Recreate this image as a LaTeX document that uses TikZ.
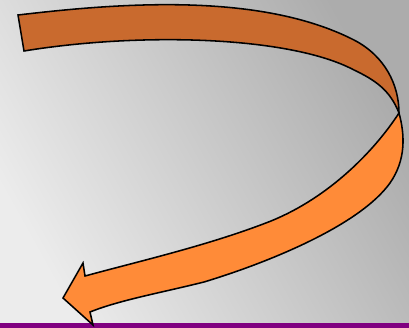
\documentclass[tikz,border=0pt]{standalone}
\usepackage{xcolor}
\definecolor{backorange}{RGB}{201, 106, 46}
\definecolor{frontorange}{RGB}{255, 139, 56}
\definecolor{barpurple}{RGB}{128, 0, 128}
\definecolor{bglight}{RGB}{236, 236, 236}
\definecolor{bgdark}{RGB}{172, 172, 172}
\usepackage{tikz}
\usetikzlibrary{calc}

\begin{document}
\begin{tikzpicture}[
  x=0.025cm, y=-0.025cm,
  ribbon/.style={draw=black, line width=1.1pt, line join=miter},
  backribbon/.style={ribbon, fill=backorange},
  frontribbon/.style={ribbon, fill=frontorange},
  bottombar/.style={fill=barpurple, draw=none}
]
\useasboundingbox (0,0) rectangle (409,328);
\shade[shading=axis, top color=bglight, bottom color=bgdark, shading angle=119] (0,0) rectangle (409,328);
\fill[bottombar] (0,323) rectangle (409,328);

\coordinate (twist) at (399,113);

\draw[backribbon] (18,15) .. controls (120,3) and (260,-8) .. (354,40)
  .. controls (385,56) and (399,85) .. (twist)
  .. controls (390,90) and (375,80) .. (354,70)
  .. controls (290,36) and (140,32) .. (24,51) -- cycle;

\draw[frontribbon] (twist) .. controls (405,135) and (406,160) .. (390,183)
  .. controls (360,225) and (270,262) .. (204,282)
  .. controls (160,293) and (120,300) .. (90,312)
  -- (93,325) -- (63,298) -- (83,263) -- (85,276)
  .. controls (140,261) and (210,245) .. (271,221)
  .. controls (330,197) and (375,150) .. (twist) -- cycle;
\end{tikzpicture}
\end{document}
